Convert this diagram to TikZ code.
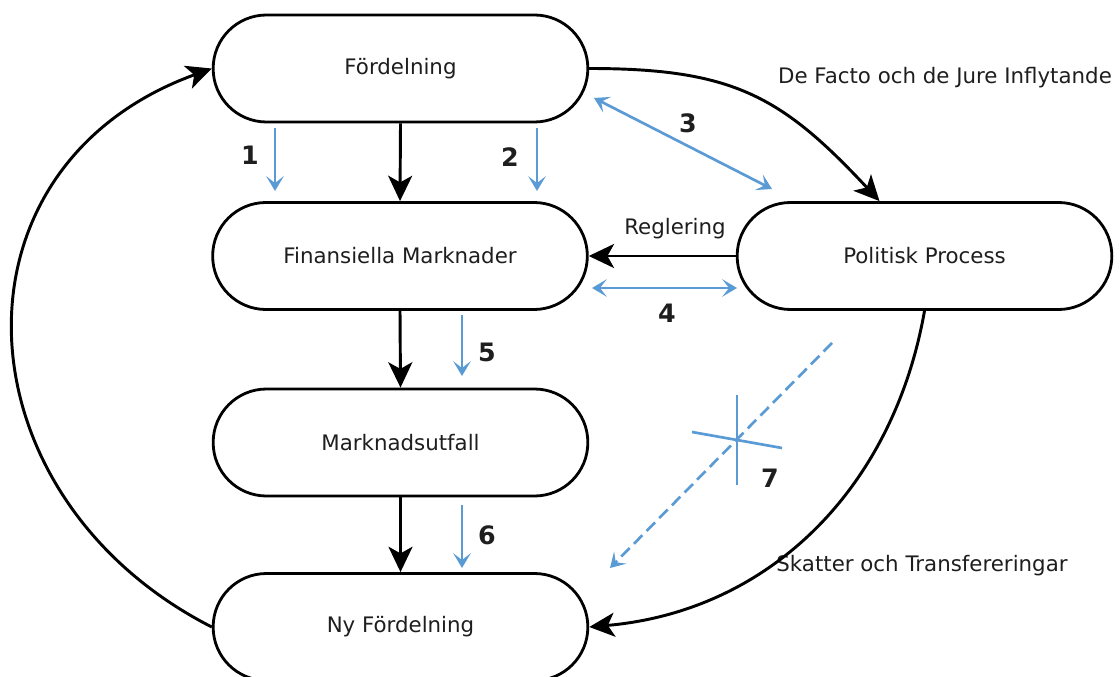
\documentclass[tikz,border=0pt]{standalone}
\usepackage{fontspec}
\setmainfont{DejaVu Sans}
\usetikzlibrary{arrows.meta,calc}
\definecolor{bl}{RGB}{91,155,213}
\definecolor{tx}{RGB}{30,30,30}
\begin{document}
\begin{tikzpicture}[x=0.75pt,y=-0.75pt,
  box/.style={draw=black, line width=2.1pt, rounded corners=40pt,
    minimum width=281pt, minimum height=80.25pt, inner sep=0pt,
    font=\fontsize{16}{19}\selectfont, text=tx},
  blk/.style={line width=2.2pt, -{Stealth[length=19pt,width=18pt,inset=5pt]}},
  blu/.style={draw=bl, line width=2pt, -{Stealth[length=11pt,width=13pt,inset=5pt]}},
  blud/.style={draw=bl, line width=2pt, {Stealth[length=11pt,width=13pt,inset=5pt]}-{Stealth[length=11pt,width=13pt,inset=5pt]}},
  num/.style={font=\fontsize{19}{22}\selectfont\bfseries, text=tx},
  lab/.style={font=\fontsize{16}{19}\selectfont, text=tx}]
\useasboundingbox (0,0) rectangle (1120,677);
\fill[white] (0,0) rectangle (1120,677);

% nodes
\node[box] (ford) at (400.5,68.5) {Fördelning};
\node[box] (fin)  at (400,256) {Finansiella Marknader};
\node[box] (mkt)  at (400.5,442.5) {Marknadsutfall};
\node[box] (ny)   at (400.5,627) {Ny Fördelning};
\node[box] (pol)  at (924.5,256) {Politisk Process};

% labels
\node[lab] (lfacto) at (945,78) {De Facto och de Jure Inflytande};
\node[lab] (lskatt) at (922,566) {Skatter och Transfereringar};
\node[lab] (lreg)   at (675,229) {Reglering};

% black connectors
\draw[blk] (ford.south) -- (fin.north);
\draw[blk] (fin.south) -- (mkt.north);
\draw[blk] (mkt.south) -- (ny.north);
\draw[blk] (pol.west) -- (fin.east);
\coordinate (poltop) at ($(pol.north)+(-45,0)$);
\draw[blk] (ford.east) to[out=0,in=133,looseness=1.15] (poltop);
\draw[blk] (pol.south) to[out=-100,in=5] (ny.east);
\draw[blk] (ny.west) .. controls (-45,496) and (-60,167) .. (ford.west);

% blue arrows
\coordinate (a1s) at (275,128); \coordinate (a1e) at (275,191);
\coordinate (a2s) at (537,128); \coordinate (a2e) at (537,191);
\coordinate (a3s) at (594,98);  \coordinate (a3e) at (772,189);
\coordinate (a4s) at (592,288); \coordinate (a4e) at (737,288);
\coordinate (a5s) at (462,315); \coordinate (a5e) at (462,376);
\coordinate (a6s) at (462,505); \coordinate (a6e) at (462,568);
\coordinate (a7s) at (832,343); \coordinate (a7e) at (610,568);
\draw[blu] (a1s) -- (a1e);
\draw[blu] (a2s) -- (a2e);
\draw[blud] (a3s) -- (a3e);
\draw[blud] (a4s) -- (a4e);
\draw[blu] (a5s) -- (a5e);
\draw[blu] (a6s) -- (a6e);
\draw[blu, dash pattern=on 9pt off 4.5pt] (a7s) -- (a7e);
% cross
\coordinate (c1) at (737,395); \coordinate (c2) at (737,485);
\coordinate (c3) at (692,432); \coordinate (c4) at (782,448);
\draw[bl, line width=2pt] (c1) -- (c2);
\draw[bl, line width=2pt] (c3) -- (c4);

% numbers
\node[num] (n1) at (250,155) {1};
\node[num] (n2) at (510,157) {2};
\node[num] (n3) at (688,123) {3};
\node[num] (n4) at (667,313) {4};
\node[num] (n5) at (487,352) {5};
\node[num] (n6) at (487,535) {6};
\node[num] (n7) at (770,478) {7};
\end{tikzpicture}
\end{document}
